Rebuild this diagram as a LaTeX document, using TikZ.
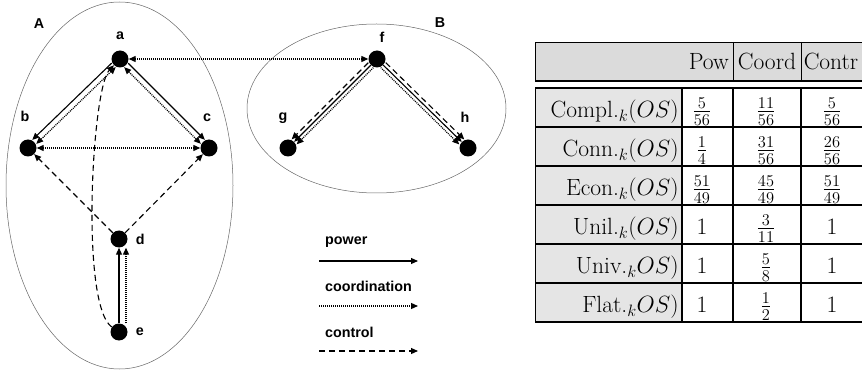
\documentclass[tikz,border=0pt]{standalone}
\usepackage{fix-cm}
\usepackage{fontspec}
\newfontfamily\labfont{Liberation Sans}
\usepackage{amsmath}
\usetikzlibrary{arrows.meta,positioning}

\begin{document}
\begin{tikzpicture}[x=1pt,y=-1pt,
  dot/.style={circle,fill=black,inner sep=0pt,minimum size=17pt},
  lab/.style={font=\labfont\bfseries\fontsize{14.3}{17}\selectfont,inner sep=0pt},
  grp/.style={draw=black!60,line width=0.5pt},
  tip/.style={-{Triangle[length=7pt,width=6pt]}},
  both/.style={{Triangle[length=7pt,width=6pt]}-{Triangle[length=7pt,width=6pt]}},
  power/.style={line width=1.1pt},
  coord/.style={line width=1.2pt,dash pattern=on 1pt off 1pt},
  contr/.style={line width=1.1pt,dash pattern=on 6pt off 4pt},
  cell/.style={font=\fontsize{23.5}{28}\selectfont,inner sep=0pt}]
\useasboundingbox (0,0) rectangle (862,374);

% groups
\draw[grp] (119.5,185.5) ellipse [x radius=113.5,y radius=183.5];
\draw[grp] (376.5,108.5) ellipse [x radius=129.5,y radius=84.5];
\node[lab] (grpA) at (39,24) {A};
\node[lab] (grpB) at (440,23) {B};

% agents
\node[dot] (a) at (120,59) {};
\node[dot] (b) at (28,148) {};
\node[dot] (c) at (209,148) {};
\node[dot] (d) at (119,239) {};
\node[dot] (e) at (119,332) {};
\node[dot] (f) at (377,59) {};
\node[dot] (g) at (288,148) {};
\node[dot] (h) at (468,148) {};

\node[lab,above=10pt of a] (la) {a};
\node[lab,above=17pt of b,xshift=-3pt] (lb) {b};
\node[lab,above=17pt of c,xshift=-2pt] (lc) {c};
\node[lab,right=8pt of d] (ld) {d};
\node[lab,right=8pt of e] (le) {e};
\node[lab,above=8pt of f,xshift=5pt] (lf) {f};
\node[lab,above=16pt of g,xshift=-5pt] (lg) {g};
\node[lab,above=17pt of h,xshift=-3pt] (lh) {h};

% group A
\draw[power,tip,transform canvas={xshift=-2pt,yshift=2pt}] (a) -- (b);
\draw[coord,both,transform canvas={xshift=2pt,yshift=-2pt}] (a) -- (b);
\draw[power,tip,transform canvas={xshift=2pt,yshift=2pt}] (a) -- (c);
\draw[coord,both,transform canvas={xshift=-2pt,yshift=-2pt}] (a) -- (c);
\draw[coord,both] (b) -- (c);
\draw[contr,tip] (d) -- (b);
\draw[contr,tip] (d) -- (c);
\draw[power,tip] (e) -- (d);
\draw[coord,tip,transform canvas={xshift=7pt}] (e) -- (d);
\draw[contr,tip] (e) .. controls (80,305) and (92,88) .. (a);

% between groups
\draw[coord,both] (a) -- (f);

% group B
\draw[power,tip] (f) -- (g);
\draw[contr,tip,transform canvas={xshift=-2.5pt,yshift=2.5pt}] (f) -- (g);
\draw[coord,tip,transform canvas={xshift=2.5pt,yshift=-2.5pt}] (f) -- (g);
\draw[power,tip] (f) -- (h);
\draw[contr,tip,transform canvas={xshift=2.5pt,yshift=2.5pt}] (f) -- (h);
\draw[coord,tip,transform canvas={xshift=-2.5pt,yshift=-2.5pt}] (f) -- (h);

% legend
\node[lab,anchor=west] (tpow) at (325,242) {power};
\coordinate (pow1) at (319,261);
\coordinate (pow2) at (418,261);
\draw[power,tip] (pow1) -- (pow2);
\node[lab,anchor=west] (tcoord) at (325,286) {coordination};
\coordinate (coord1) at (319,306);
\coordinate (coord2) at (418,306);
\draw[coord,tip] (coord1) -- (coord2);
\node[lab,anchor=west] (tcontr) at (325,332) {control};
\coordinate (contr1) at (319,351);
\coordinate (contr2) at (418,351);
\draw[contr,tip] (contr1) -- (contr2);

% table header
\fill[black!14] (535,42) rectangle (862,81);
\draw[line width=0.8pt] (862,42) -- (535,42) -- (535,81);
\draw[line width=1.6pt] (535,81) -- (862,81);
\draw[line width=0.8pt] (733,42) -- (733,81) (801,42) -- (801,81);
\node[cell,anchor=base east] (hpow) at (729,70) {Pow};
\node[cell,anchor=base] (hcoord) at (767,70) {Coord};
\node[cell,anchor=base] (hcontr) at (831,70) {Contr};

% table body
\fill[black!10] (535,88) rectangle (682,322);
\foreach \y in {88,127,...,322}
  \draw[line width=1.8pt] (535,\y) -- (862,\y);
\foreach \x in {682,733,801}
  \draw[line width=1.8pt] (\x,88) -- (\x,322);
\draw[line width=1pt] (535,88) -- (535,322);
\foreach \rl/\vp/\vc/\vk [count=\i from 0] in {%
  {Compl.$_k(OS)$}/{$\frac{5}{56}$}/{$\frac{11}{56}$}/{$\frac{5}{56}$},
  {Conn.$_k(OS)$}/{$\frac{1}{4}$}/{$\frac{31}{56}$}/{$\frac{26}{56}$},
  {Econ.$_k(OS)$}/{$\frac{51}{49}$}/{$\frac{45}{49}$}/{$\frac{51}{49}$},
  {Unil.$_k(OS)$}/{1}/{$\frac{3}{11}$}/{1},
  {Univ.$_k OS)$}/{1}/{$\frac{5}{8}$}/{1},
  {Flat.$_k OS)$}/{1}/{$\frac{1}{2}$}/{1}}
{
  \node[cell,anchor=base east] (row\i) at (679,117.5+39*\i) {\rl};
  \node[cell,anchor=base] (pow\i) at (702,117.5+39*\i) {\vp};
  \node[cell,anchor=base] (coord\i) at (766,117.5+39*\i) {\vc};
  \node[cell,anchor=base] (contr\i) at (832,117.5+39*\i) {\vk};
}
\end{tikzpicture}
\end{document}
